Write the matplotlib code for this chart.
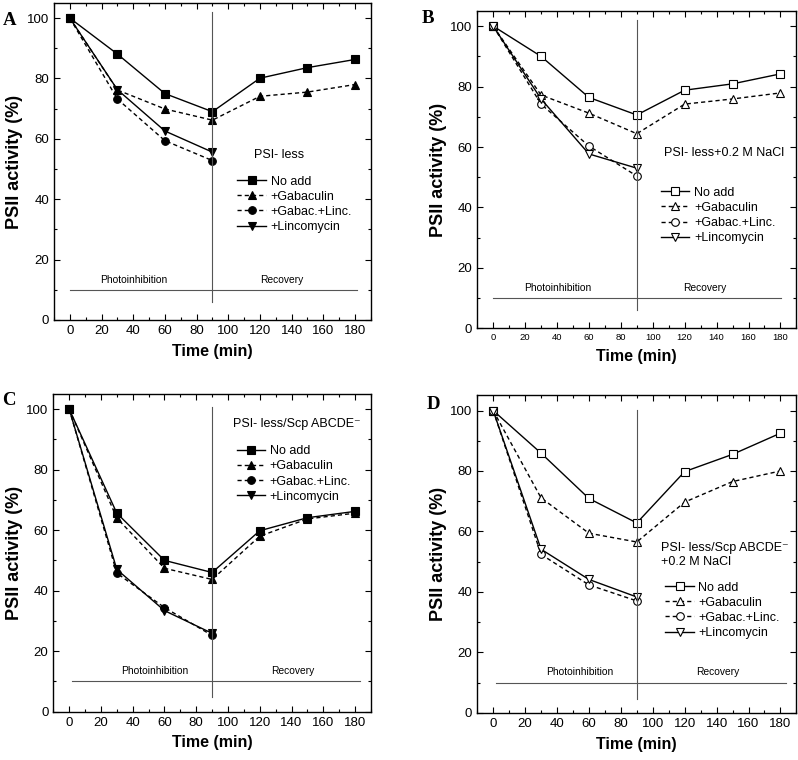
import matplotlib
matplotlib.use('Agg')
import matplotlib.pyplot as plt
from matplotlib.ticker import MultipleLocator

plt.rcParams['font.family'] = ['Liberation Sans', 'DejaVu Sans']

time_all = [0, 30, 60, 90, 120, 150, 180]
time_photo = [0, 30, 60, 90]
labels = ['No add', '+Gabaculin', '+Gabac.+Linc.', '+Lincomycin']

# panel A: PSI- less
a_noadd = [100, 88.1, 75.0, 69.0, 80.1, 83.6, 86.3]
a_gaba = [100, 76.2, 69.9, 66.2, 74.1, 75.5, 78.0]
a_gablinc = [100, 73.2, 59.4, 52.8]
a_linc = [100, 76.3, 62.6, 55.6]

# panel B: PSI- less + 0.2 M NaCl
b_noadd = [100, 90.0, 76.4, 70.6, 78.8, 80.9, 84.2]
b_gaba = [100, 77.2, 71.2, 64.4, 74.2, 75.9, 77.9]
b_gablinc = [100, 74.2, 60.3, 50.4]
b_linc = [100, 75.9, 57.7, 53.0]

# panel C: PSI- less/Scp ABCDE-
c_noadd = [100, 65.6, 50.0, 46.0, 59.8, 64.1, 66.2]
c_gaba = [100, 64.0, 47.4, 43.7, 58.0, 63.7, 65.6]
c_gablinc = [100, 45.8, 34.4, 25.2]
c_linc = [100, 47.0, 33.4, 25.9]

# panel D: PSI- less/Scp ABCDE- + 0.2 M NaCl
d_noadd = [100, 85.9, 70.9, 62.8, 79.8, 85.5, 92.5]
d_gaba = [100, 71.1, 59.4, 56.5, 69.7, 76.5, 80.0]
d_gablinc = [100, 52.4, 42.3, 37.0]
d_linc = [100, 54.1, 44.1, 38.3]

dash = (0, (3, 2.2))


def draw_panel(ax, series, filled, letter, letter_xy, cond, cond_xy, leg_xy,
               photo_x, rec_x, vline, hline, xtick_size):
    face = 'black' if filled else 'white'
    markers = ['s', '^', 'o', 'v']
    styles = ['-', dash, dash, '-']
    xs = [time_all, time_all, time_photo, time_photo]
    for x, y, m, ls, lab in zip(xs, series, markers, styles, labels):
        ax.plot(x, y, color='black', lw=1.0, ls=ls, marker=m, ms=5.5,
                mfc=face, mec='black', mew=0.8, label=lab)
    ax.set_xlim(-10, 190)
    ax.set_ylim(0, 105)
    ax.xaxis.set_major_locator(MultipleLocator(20))
    ax.xaxis.set_minor_locator(MultipleLocator(10))
    ax.yaxis.set_major_locator(MultipleLocator(20))
    ax.yaxis.set_minor_locator(MultipleLocator(10))
    ax.tick_params(which='both', direction='in', top=True, right=True, width=0.8)
    ax.tick_params(which='major', length=4.5, pad=3.5)
    ax.tick_params(which='minor', length=2.5)
    ax.tick_params(axis='y', labelsize=9.5)
    ax.tick_params(axis='x', labelsize=xtick_size)
    for s in ax.spines.values():
        s.set_linewidth(1.0)
    ax.set_xlabel('Time (min)', fontsize=11.5, fontweight='bold', labelpad=5)
    ax.set_ylabel('PSII activity (%)', fontsize=13, fontweight='bold', labelpad=2.5)
    ax.axvline(90, ymin=vline[0] / 105, ymax=vline[1] / 105, color='#555555', lw=0.8)
    ax.axhline(10, xmin=(hline[0] + 10) / 200, xmax=(hline[1] + 10) / 200,
               color='#555555', lw=0.8)
    ax.text(photo_x, 13.4, 'Photoinhibition', fontsize=7.4, ha='center', va='center')
    ax.text(rec_x, 13.4, 'Recovery', fontsize=7.4, ha='center', va='center')
    ax.text(cond_xy[0], cond_xy[1], cond, fontsize=9, ha='left', va='center',
            linespacing=1.3)
    ax.legend(loc='center left', bbox_to_anchor=leg_xy, frameon=False, fontsize=9,
              handlelength=2.3, handletextpad=0.35, labelspacing=0.25,
              borderpad=0, borderaxespad=0, numpoints=1)
    ax.text(letter_xy[0], letter_xy[1], letter, transform=ax.transAxes, fontsize=13.5,
            fontweight='bold', family='Liberation Serif', ha='left', va='center')


fig = plt.figure(figsize=(7.98, 7.6), dpi=100)
axA = fig.add_axes([0.0677, 0.579, 0.397, 0.417])
axB = fig.add_axes([0.598, 0.568, 0.400, 0.4175])
axC = fig.add_axes([0.0668, 0.0636, 0.398, 0.418])
axD = fig.add_axes([0.598, 0.0622, 0.400, 0.4175])

draw_panel(axA, [a_noadd, a_gaba, a_gablinc, a_linc], True, 'A', (-0.163, 0.946),
           'PSI- less', (116, 54.5), (0.579, 0.365), 40.6, 133.6, (6, 102), (0, 181.5), 9.5)
draw_panel(axB, [b_noadd, b_gaba, b_gablinc, b_linc], False, 'B', (-0.174, 0.977),
           'PSI- less+0.2 M NaCl', (107, 57.9), (0.575, 0.356), 40.6, 132.8,
           (6, 102), (0, 180.6), 6.8)
draw_panel(axC, [c_noadd, c_gaba, c_gablinc, c_linc], True, 'C', (-0.162, 0.981),
           'PSI- less/Scp ABCDE\u207b', (103.3, 95), (0.577, 0.748), 53.9, 140.5,
           (4.7, 100.6), (1.7, 183), 9.5)
draw_panel(axD, [d_noadd, d_gaba, d_gablinc, d_linc], False, 'D', (-0.159, 0.972),
           'PSI- less/Scp ABCDE\u207b\n+0.2 M NaCl', (105.2, 52.2), (0.589, 0.323),
           54, 140.8, (4.7, 100.2), (1.7, 183.7), 9.5)

fig.savefig('out.png', dpi=100)
